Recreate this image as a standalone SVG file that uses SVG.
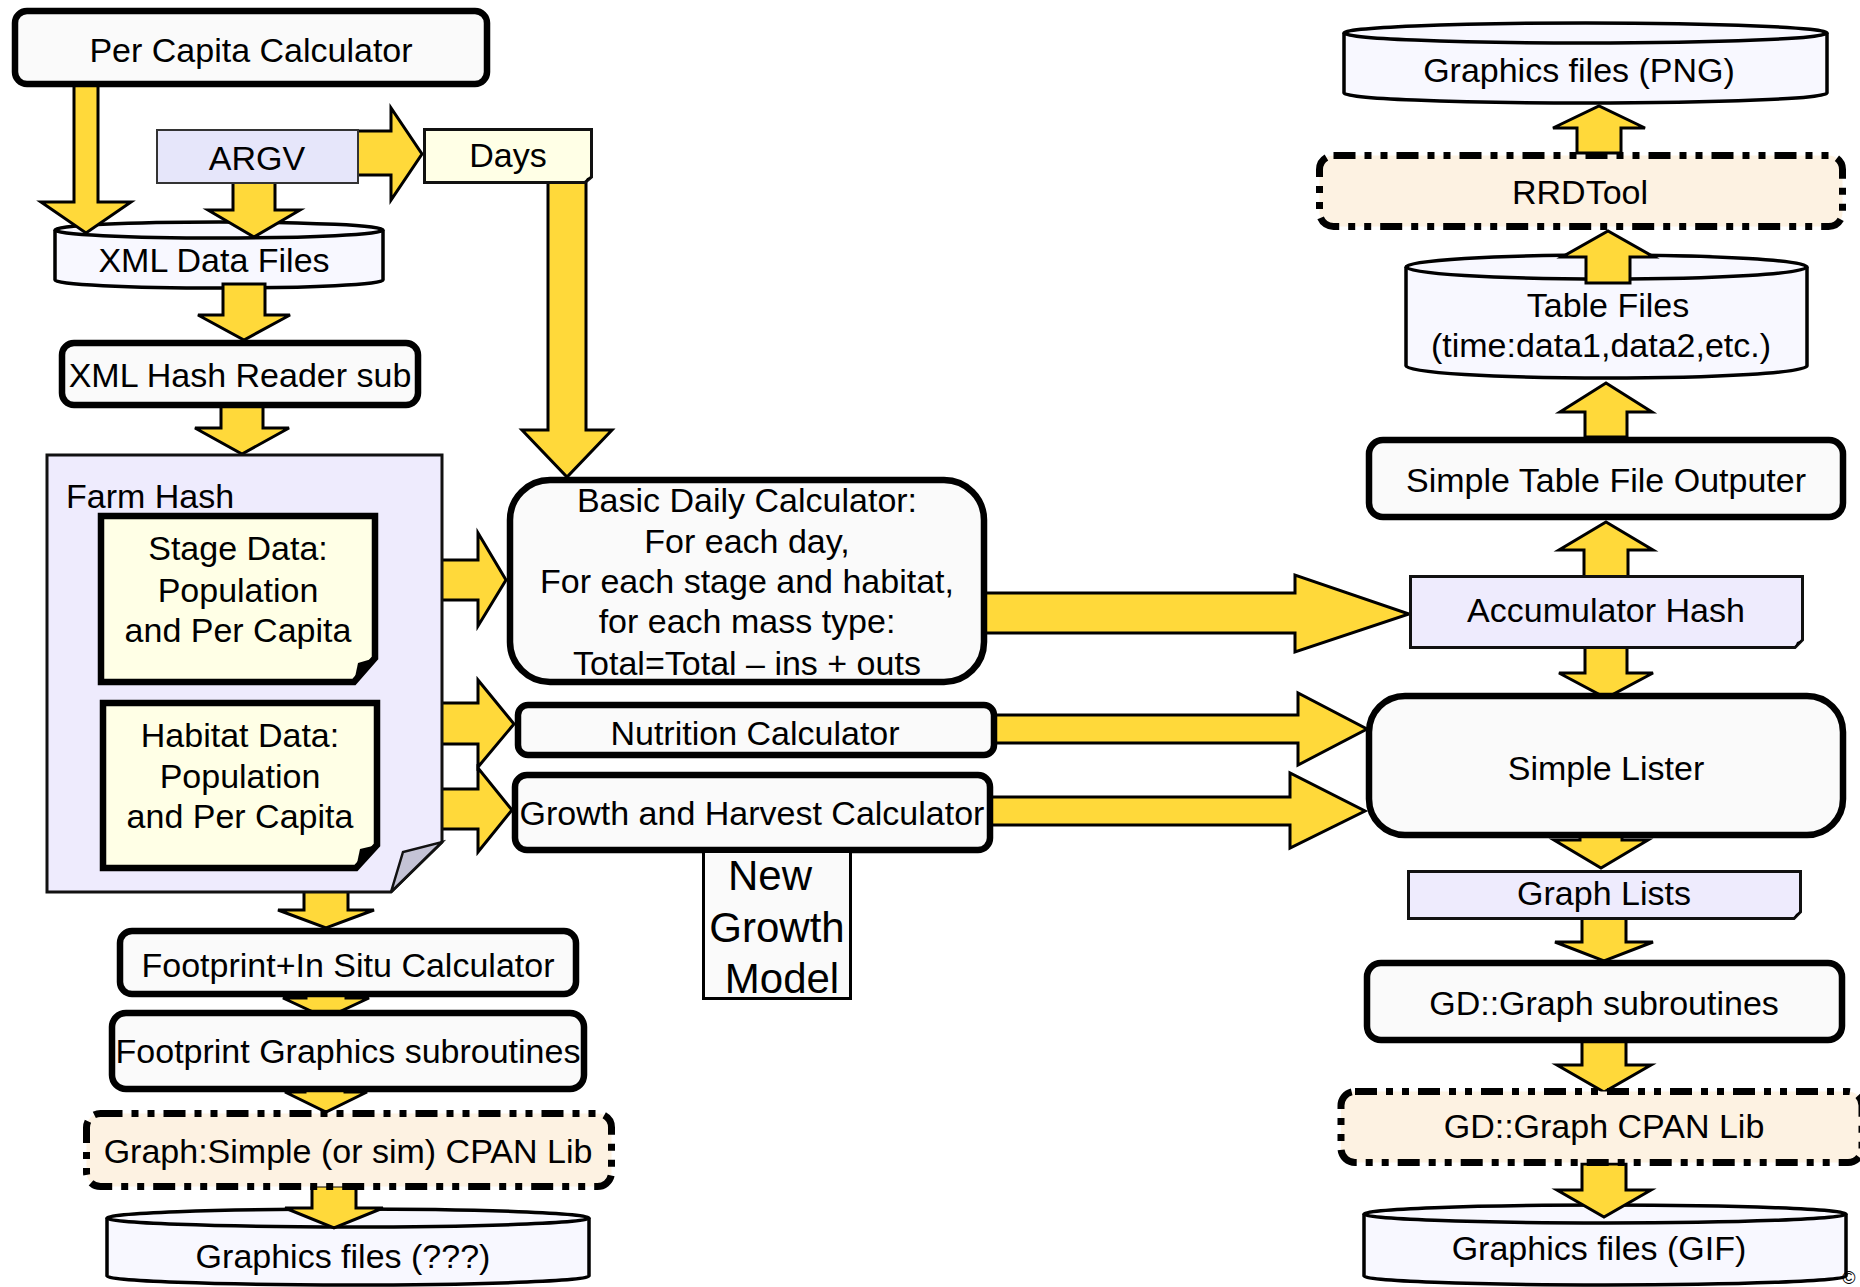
<svg xmlns="http://www.w3.org/2000/svg" width="1860" height="1287" viewBox="0 0 1860 1287">
<style>
text{font-family:"Liberation Sans",Arial,sans-serif;font-size:34px;fill:#000;text-anchor:middle}
.box{fill:#fafafa;stroke:#000;stroke-width:6.5}
.thin{stroke:#111;stroke-width:3}
.lav{fill:#eeebfd}
.yel{fill:#ffffe6}
.cyl{fill:#f8f8ff;stroke:#000;stroke-width:3.5}
.dd{fill:#fdf2e2;stroke:#000;stroke-width:7;stroke-dasharray:22 9 7 9 7 9}
.arr{fill:#ffd93a;stroke:#000;stroke-width:3;stroke-linejoin:miter}
.fold{fill:#000}
</style>

<!-- cylinders (drawn under connectors) -->
<g id="xml-data-files">
<path class="cyl" d="M55,230 V280 A164,8 0 0 0 383,280 V230 A164,8 0 0 0 55,230 Z"/>
<path class="cyl" d="M55,230 A164,8 0 0 0 383,230" fill="none"/>
<text x="214" y="272">XML Data Files</text>
</g>
<g id="graphics-png">
<path class="cyl" d="M1344,33 V93 A241.5,10 0 0 0 1827,93 V33 A241.5,10 0 0 0 1344,33 Z"/>
<path class="cyl" d="M1344,33 A241.5,10 0 0 0 1827,33" fill="none"/>
<text x="1579" y="82">Graphics files (PNG)</text>
</g>
<g id="table-files">
<path class="cyl" d="M1406,267 V366 A200.5,12 0 0 0 1807,366 V267 A200.5,12 0 0 0 1406,267 Z"/>
<path class="cyl" d="M1406,267 A200.5,12 0 0 0 1807,267" fill="none"/>
<text x="1608" y="317">Table Files</text>
<text x="1601" y="357">(time:data1,data2,etc.)</text>
</g>
<g id="graphics-unknown">
<path class="cyl" d="M107,1218 V1276 A241,9 0 0 0 589,1276 V1218 A241,9 0 0 0 107,1218 Z"/>
<path class="cyl" d="M107,1218 A241,9 0 0 0 589,1218" fill="none"/>
<text x="343" y="1268">Graphics files (???)</text>
</g>
<g id="graphics-gif">
<path class="cyl" d="M1364,1214 V1276 A241,9 0 0 0 1846,1276 V1214 A241,9 0 0 0 1364,1214 Z"/>
<path class="cyl" d="M1364,1214 A241,9 0 0 0 1846,1214" fill="none"/>
<text x="1599" y="1260">Graphics files (GIF)</text>
</g>

<!-- connectors -->
<g id="connectors">
<polygon class="arr" points="74,85 98,85 98,202 131,202 86,233 41,202 74,202"/>
<polygon class="arr" points="233,181 275,181 275,210 300,210 254,237 208,210 233,210"/>
<polygon class="arr" points="356,131 391,131 391,108 422,154 391,200 391,175 356,175"/>
<polygon class="arr" points="548,182 586,182 586,430 612,430 567,477 522,430 548,430"/>
<polygon class="arr" points="223,284 265,284 265,315 290,315 244,340 198,315 223,315"/>
<polygon class="arr" points="221,406 263,406 263,428 289,428 242,454 195,428 221,428"/>
<polygon class="arr" points="440,560 478,560 478,533 506,580 478,626 478,600 440,600"/>
<polygon class="arr" points="440,703 478,703 478,680 514,724 478,767 478,744 440,744"/>
<polygon class="arr" points="440,789 478,789 478,768 512,810 478,852 478,829 440,829"/>
<polygon class="arr" points="304,890 348,890 348,910 374,910 326,928 278,910 304,910"/>
<polygon class="arr" points="306,993 346,993 346,998 369,998 326,1018 283,998 306,998"/>
<polygon class="arr" points="305,1088 345,1088 345,1092 367,1092 326,1112 285,1092 305,1092"/>
<polygon class="arr" points="312,1186 356,1186 356,1208 383,1208 334,1228 285,1208 312,1208"/>
<polygon class="arr" points="985,593 1295,593 1295,575 1409,614 1295,652 1295,633 985,633"/>
<polygon class="arr" points="995,715 1298,715 1298,693 1367,729 1298,765 1298,743 995,743"/>
<polygon class="arr" points="991,797 1290,797 1290,773 1365,811 1290,848 1290,825 991,825"/>
<polygon class="arr" points="1577,153 1621,153 1621,128 1645,128 1599,106 1553,128 1577,128"/>
<polygon class="arr" points="1586,283 1630,283 1630,257 1654,257 1608,231 1562,257 1586,257"/>
<polygon class="arr" points="1585,437 1627,437 1627,412 1652,412 1606,383 1560,412 1585,412"/>
<polygon class="arr" points="1584,577 1628,577 1628,550 1653,550 1606,522 1559,550 1584,550"/>
<polygon class="arr" points="1585,647 1627,647 1627,673 1653,673 1606,698 1559,673 1585,673"/>
<polygon class="arr" points="1580,832 1622,832 1622,840 1648,840 1601,868 1554,840 1580,840"/>
<polygon class="arr" points="1582,918 1626,918 1626,942 1653,942 1604,961 1555,942 1582,942"/>
<polygon class="arr" points="1582,1041 1626,1041 1626,1065 1651,1065 1604,1092 1557,1065 1582,1065"/>
<polygon class="arr" points="1582,1164 1626,1164 1626,1190 1651,1190 1604,1217 1557,1190 1582,1190"/>
</g>

<!-- box nodes -->
<g id="per-capita-calculator">
<rect class="box" x="15" y="11" width="472" height="73" rx="12"/>
<text x="251" y="62">Per Capita Calculator</text>
</g>
<g id="argv">
<rect x="157" y="130" width="201" height="53" fill="#e6e6fa" stroke="#333" stroke-width="2"/>
<text x="257" y="170">ARGV</text>
</g>
<g id="days">
<path class="yel thin" d="M424.5,129.5 H591.5 V177 L585,182.5 H424.5 Z"/>
<path class="fold" d="M585,182.5 L587,178 L591.5,177 Z"/>
<text x="508" y="167">Days</text>
</g>
<g id="xml-hash-reader">
<rect class="box" x="62" y="343" width="356" height="62" rx="12"/>
<text x="240" y="387">XML Hash Reader sub</text>
</g>
<g id="farm-hash">
<path class="lav thin" d="M47,455 H442 V842 L391,892 H47 Z"/>
<path d="M391,892 L403,852 L442,842 Z" fill="#c4c3d6" stroke="#111" stroke-width="2.5"/>
<text x="66" y="508" style="text-anchor:start">Farm Hash</text>
<g id="stage-data">
<path class="yel" stroke="#000" stroke-width="6.5" d="M101,516 H375 V658 L354,682 H101 Z"/>
<path class="fold" d="M354,682 L358,663 L375,658 Z"/>
<text x="238" y="560">Stage Data:</text>
<text x="238" y="602">Population</text>
<text x="238" y="642">and Per Capita</text>
</g>
<g id="habitat-data">
<path class="yel" stroke="#000" stroke-width="6.5" d="M103,703 H377 V845 L356,868 H103 Z"/>
<path class="fold" d="M356,868 L360,849 L377,845 Z"/>
<text x="240" y="747">Habitat Data:</text>
<text x="240" y="788">Population</text>
<text x="240" y="828">and Per Capita</text>
</g>
</g>
<g id="footprint-calculator">
<rect class="box" x="120" y="931" width="456" height="63" rx="12"/>
<text x="348" y="977">Footprint+In Situ Calculator</text>
</g>
<g id="footprint-graphics">
<rect class="box" x="112" y="1013" width="472" height="76" rx="14"/>
<text x="348" y="1063">Footprint Graphics subroutines</text>
</g>
<g id="graph-simple-lib">
<rect class="dd" x="86.5" y="1113.5" width="525" height="73" rx="14"/>
<text x="348" y="1163">Graph:Simple (or sim) CPAN Lib</text>
</g>
<g id="basic-daily-calculator">
<rect class="box" x="510" y="480" width="474" height="202" rx="40"/>
<text x="747" y="512">Basic Daily Calculator:</text>
<text x="747" y="553">For each day,</text>
<text x="747" y="593">For each stage and habitat,</text>
<text x="747" y="633">for each mass type:</text>
<text x="747" y="675">Total=Total – ins + outs</text>
</g>
<g id="nutrition-calculator">
<rect class="box" x="518" y="705" width="476" height="50" rx="10"/>
<text x="755" y="745">Nutrition Calculator</text>
</g>
<g id="growth-harvest-calculator">
<rect class="box" x="515" y="775" width="475" height="75" rx="12"/>
<text x="752" y="825">Growth and Harvest Calculator</text>
</g>
<g id="new-growth-model">
<rect x="703.5" y="851.5" width="147" height="147" fill="#fafafa" stroke="#000" stroke-width="3"/>
<text x="770" y="890" style="font-size:42px">New</text>
<text x="777" y="942" style="font-size:42px">Growth</text>
<text x="782" y="993" style="font-size:42px">Model</text>
</g>
<g id="rrdtool">
<rect class="dd" x="1319.5" y="155.5" width="523" height="71" rx="14"/>
<text x="1580" y="204">RRDTool</text>
</g>
<g id="table-file-outputer">
<rect class="box" x="1369" y="440" width="474" height="77" rx="14"/>
<text x="1606" y="492">Simple Table File Outputer</text>
</g>
<g id="accumulator-hash">
<path class="lav thin" d="M1410.5,576.5 H1802.5 V640 L1795,647.5 H1410.5 Z"/>
<path class="fold" d="M1795,647.5 L1797,642 L1802.5,640 Z"/>
<text x="1606" y="622">Accumulator Hash</text>
</g>
<g id="simple-lister">
<rect class="box" x="1369" y="696" width="474" height="139" rx="36"/>
<text x="1606" y="780">Simple Lister</text>
</g>
<g id="graph-lists">
<path class="lav thin" d="M1408.5,871.5 H1800.5 V912 L1794,918.5 H1408.5 Z"/>
<path class="fold" d="M1794,918.5 L1796,914 L1800.5,912 Z"/>
<text x="1604" y="905">Graph Lists</text>
</g>
<g id="gd-graph-subroutines">
<rect class="box" x="1367" y="963" width="475" height="77" rx="14"/>
<text x="1604" y="1015">GD::Graph subroutines</text>
</g>
<g id="gd-graph-lib">
<rect class="dd" x="1341" y="1091.5" width="521" height="71" rx="14"/>
<text x="1604" y="1138">GD::Graph CPAN Lib</text>
</g>
<text x="1849" y="1284" style="font-size:18px">©</text>
</svg>
